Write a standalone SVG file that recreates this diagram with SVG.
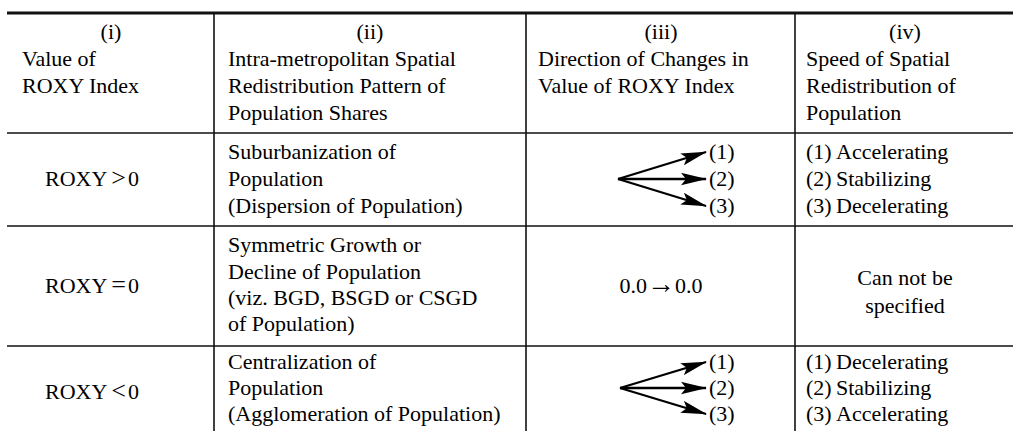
<svg xmlns="http://www.w3.org/2000/svg" width="1015" height="431" viewBox="0 0 1015 431">
<defs>
<style>
text{font-family:"Liberation Serif","Times New Roman",serif;font-size:22px;fill:#000}
.c{text-anchor:middle}
.rule{stroke:#111;stroke-width:1.6;fill:none}
.top{stroke:#111;stroke-width:3;fill:none}
.arr{stroke:#000;stroke-width:2.3;fill:none;marker-end:url(#ah)}
</style>
<marker id="ah" markerUnits="userSpaceOnUse" markerWidth="26" markerHeight="13" refX="25" refY="6.5" orient="auto" viewBox="0 0 26 13">
<path d="M0,0.3 L26,6.5 L0,12.7 L5,6.5 Z" fill="#000"/>
</marker>
</defs>
<rect width="1015" height="431" fill="#fff"/>
<g id="grid">
<line class="top" x1="7" y1="13" x2="1013" y2="13"/>
<line class="rule" x1="7" y1="133" x2="1013" y2="133"/>
<line class="rule" x1="7" y1="226" x2="1013" y2="226"/>
<line class="rule" x1="7" y1="346" x2="1013" y2="346"/>
<line class="rule" x1="214" y1="13" x2="214" y2="431"/>
<line class="rule" x1="526" y1="13" x2="526" y2="431"/>
<line class="rule" x1="795" y1="13" x2="795" y2="431"/>
</g>
<g id="header">
<text class="c" x="111" y="39">(i)</text>
<text x="22" y="66">Value of</text>
<text x="22" y="93">ROXY Index</text>
<text class="c" x="370" y="39">(ii)</text>
<text x="228" y="66">Intra-metropolitan Spatial</text>
<text x="228" y="93">Redistribution Pattern of</text>
<text x="228" y="120">Population Shares</text>
<text class="c" x="661" y="39">(iii)</text>
<text x="538" y="66">Direction of Changes in</text>
<text x="538" y="93">Value of ROXY Index</text>
<text class="c" x="905" y="39">(iv)</text>
<text x="806" y="66">Speed of Spatial</text>
<text x="806" y="93">Redistribution of</text>
<text x="806" y="120">Population</text>
</g>
<g id="row1">
<text x="45" y="186">ROXY<tspan dx="4" font-size="26">&gt;</tspan><tspan dx="2">0</tspan></text>
<text x="228" y="159">Suburbanization of</text>
<text x="228" y="186">Population</text>
<text x="228" y="213">(Dispersion of Population)</text>
<text x="709" y="159">(1)</text>
<text x="709" y="186">(2)</text>
<text x="709" y="213">(3)</text>
<text x="806" y="159">(1)<tspan x="836">Accelerating</tspan></text>
<text x="806" y="186">(2)<tspan x="836">Stabilizing</tspan></text>
<text x="806" y="213">(3)<tspan x="836">Decelerating</tspan></text>
</g>
<g id="row2">
<text x="45" y="293">ROXY<tspan dx="4" font-size="26">=</tspan><tspan dx="2">0</tspan></text>
<text x="228" y="252">Symmetric Growth or</text>
<text x="228" y="279">Decline of Population</text>
<text x="228" y="305">(viz. BGD, BSGD or CSGD</text>
<text x="228" y="331">of Population)</text>
<text class="c" x="661" y="293">0.0<tspan font-size="28">→</tspan>0.0</text>
<text class="c" x="905" y="285">Can not be</text>
<text class="c" x="905" y="313">specified</text>
</g>
<g id="row3">
<text x="45" y="399">ROXY<tspan dx="4" font-size="26">&lt;</tspan><tspan dx="2">0</tspan></text>
<text x="228" y="369">Centralization of</text>
<text x="228" y="395">Population</text>
<text x="228" y="421">(Agglomeration of Population)</text>
<text x="709" y="369">(1)</text>
<text x="709" y="395">(2)</text>
<text x="709" y="421">(3)</text>
<text x="806" y="369">(1)<tspan x="836">Decelerating</tspan></text>
<text x="806" y="395">(2)<tspan x="836">Stabilizing</tspan></text>
<text x="806" y="421">(3)<tspan x="836">Accelerating</tspan></text>
</g>
<g id="connectors">
<line class="arr" x1="618" y1="179" x2="706" y2="152"/>
<line class="arr" x1="618" y1="179" x2="706" y2="179"/>
<line class="arr" x1="618" y1="179" x2="706" y2="206"/>
<line class="arr" x1="620" y1="388" x2="706" y2="362"/>
<line class="arr" x1="620" y1="388" x2="706" y2="388"/>
<line class="arr" x1="620" y1="388" x2="706" y2="414"/>
</g>
</svg>
